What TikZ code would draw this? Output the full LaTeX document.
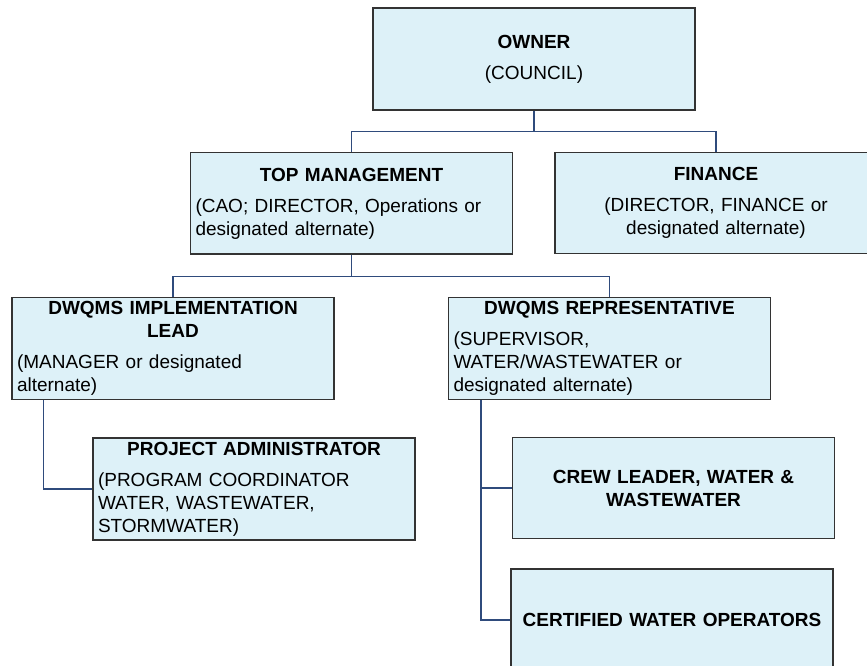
\documentclass[tikz,border=0pt]{standalone}
\usepackage{fontspec}
\setmainfont{Liberation Sans}
\usepackage{xcolor}
\usepackage{tikz}
\usetikzlibrary{positioning}
\definecolor{boxfill}{HTML}{DDF1F8}
\definecolor{boxline}{HTML}{333333}
\definecolor{navy}{HTML}{2F4B7C}
\setlength{\parindent}{0pt}
\newcommand{\orghead}[1]{{\centering\bfseries #1\par}\vspace{6pt}}

\begin{document}
\begin{tikzpicture}[
    x=0.75pt, y=-0.75pt,
    orgbox/.style={rectangle, draw=boxline, fill=boxfill, line width=1pt,
                   text width=234pt, inner xsep=3.75pt, inner ysep=0pt,
                   minimum height=76pt, align=left,
                   font=\fontsize{14.25}{17.25}\selectfont},
    link/.style={draw=navy, line width=1pt},
]
\useasboundingbox (0,0) rectangle (867,666);
\clip (0,0) rectangle (867,666);

\node[orgbox, align=center, minimum height=76.5pt] (owner) at (534,59) {\orghead{OWNER}(COUNCIL)};
\node[orgbox] (top) at (351.5,203.5) {\orghead{TOP MANAGEMENT}(CAO; DIRECTOR, Operations or\\designated alternate)};
\node[orgbox, align=center] (finance) at (716,203) {\orghead{FINANCE}(DIRECTOR, FINANCE or\\designated alternate)};
\node[orgbox] (impl) at (173,348.5) {\orghead{DWQMS IMPLEMENTATION\\LEAD}(MANAGER or designated\\alternate)};
\node[orgbox] (rep) at (609.5,348.5) {\orghead{DWQMS REPRESENTATIVE}(SUPERVISOR,\\WATER/WASTEWATER or\\designated alternate)};
\node[orgbox, minimum height=76.5pt] (admin) at (254,489) {\orghead{PROJECT ADMINISTRATOR}(PROGRAM COORDINATOR\\WATER, WASTEWATER,\\STORMWATER)};
\node[orgbox, align=center] (crew) at (673.5,488) {{\bfseries CREW LEADER, WATER \&\\WASTEWATER}};
\node[orgbox, align=center, minimum height=76.5pt] (operators) at (672,620) {{\bfseries CERTIFIED WATER OPERATORS}};

\draw[link] (owner.south) -- ++(0,21) coordinate (ownerbus);
\draw[link] (top.north) |- (ownerbus) -| (finance.north);
\draw[link] (top.south) -- ++(0,22) coordinate (topbus);
\draw[link] (impl.north) |- (topbus) -| (rep.north);
\draw[link] (impl.south west) ++(32,0) |- (admin.west);
\draw[link] (rep.south west) ++(33,0) |- (crew.west);
\draw[link] (rep.south west) ++(33,0) |- (operators.west);
\end{tikzpicture}
\end{document}
